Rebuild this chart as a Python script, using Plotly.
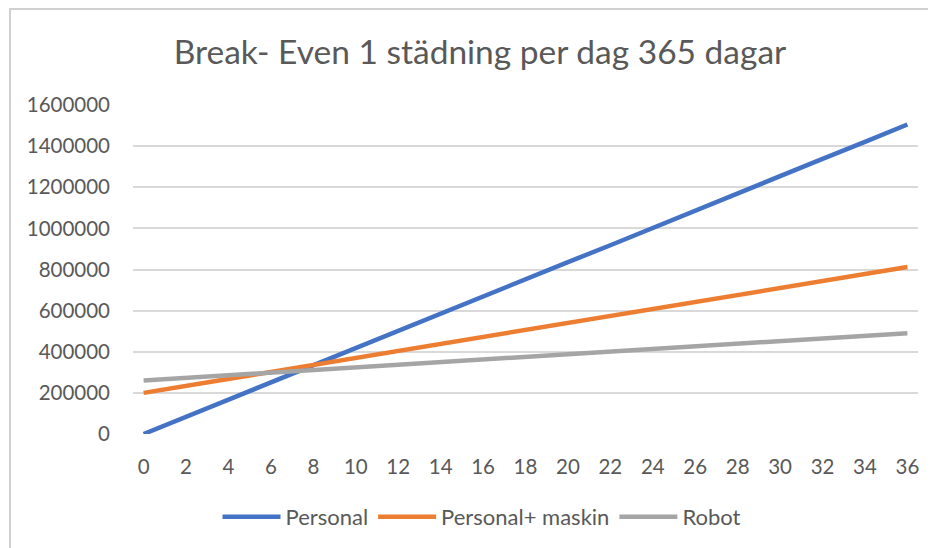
import plotly.graph_objects as go

months = [0, 2, 4, 6, 8, 10, 12, 14, 16, 18, 20, 22, 24, 26, 28, 30, 32, 34, 36]
personal = [0, 84000, 168000, 250000, 334000, 418000, 503000, 585000, 669000, 752000,
            836000, 918000, 1003000, 1087000, 1170000, 1253000, 1338000, 1421000, 1505000]
personal_maskin = [200000, 234000, 268000, 302000, 336000, 370000, 404000, 437000, 471000, 504000,
                   540000, 574000, 607000, 642000, 675000, 710000, 744000, 778000, 812000]
robot = [260000, 273000, 286000, 298000, 311000, 322000, 337000, 349000, 362000, 374000,
         387000, 399000, 412000, 424000, 437000, 452000, 464000, 477000, 490000]
series_names = ["Personal", "Personal+ maskin", "Robot"]
colors = ["#4472C4", "#ED7D31", "#A5A5A5"]
title_text = "Break- Even 1 städning per dag 365 dagar"
y_ticks = [0, 200000, 400000, 600000, 800000, 1000000, 1200000, 1400000, 1600000]

FONT = "Lato"
TXT = "#595959"
# page body has an 8px margin, so figure is sized/offset to compensate
W, H = 928, 540
L, T = 125, 97
PW, PH = 785, 329
R, B = W - L - PW, H - T - PH

fig = go.Figure()
for name, vals, col in zip(series_names, [personal, personal_maskin, robot], colors):
    fig.add_trace(go.Scatter(x=months, y=vals, mode="lines", name=name,
                             line=dict(color=col, width=4.5)))

fig.update_layout(
    width=W, height=H,
    paper_bgcolor="white", plot_bgcolor="white",
    margin=dict(l=L, r=R, t=T, b=B, autoexpand=False),
    title=dict(text=title_text, x=472 / W, xanchor="center", y=1 - 44 / H, yanchor="middle",
               font=dict(family=FONT, size=33.5, color=TXT)),
    font=dict(family=FONT, color=TXT),
    showlegend=True,
    legend=dict(orientation="h", x=(474 - L) / PW, xanchor="center",
                y=-(509 - (T + PH)) / PH, yanchor="middle",
                font=dict(family=FONT, size=22, color=TXT), itemwidth=58,
                entrywidth=0, tracegroupgap=0),
)
fig.update_xaxes(range=[-0.5, 36.5], tickmode="array", tickvals=months,
                 ticktext=[str(m) for m in months], showgrid=False, zeroline=False,
                 showline=False, ticks="", ticklabelstandoff=18,
                 tickfont=dict(family=FONT, size=20.5, color=TXT), fixedrange=True)
fig.update_yaxes(range=[0, 1600000], tickmode="array", tickvals=y_ticks,
                 ticktext=[str(v) for v in y_ticks], showgrid=True, gridcolor="#D9D9D9",
                 gridwidth=1.5, zeroline=False, showline=False, ticks="",
                 ticklabelstandoff=22, tickfont=dict(family=FONT, size=20.5, color=TXT))

# outer chart frame (left and top edges visible)
fig.add_shape(type="rect", xref="paper", yref="paper",
              x0=-(L - 2) / PW, x1=(W - L + 20) / PW, y0=-(B + 20) / PH, y1=(PH + T - 1) / PH,
              line=dict(color="#D0D0D0", width=2), fillcolor="rgba(0,0,0,0)", layer="below")

fig.write_html("out.html")
